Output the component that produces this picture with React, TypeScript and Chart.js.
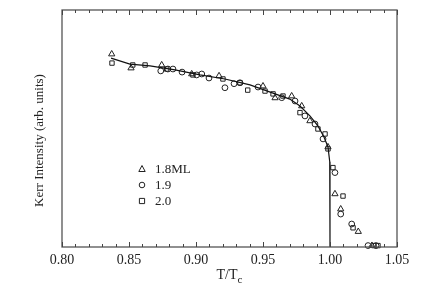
import React, { useEffect, useRef } from "react";
import { Chart, registerables } from "chart.js";

Chart.register(...registerables);

// x = T/Tc, y = Kerr intensity (arb. units)
const tri18X = [0.8371, 0.8515, 0.8744, 0.8968, 0.9172, 0.950, 0.959, 0.9714, 0.9789, 0.985, 0.9985, 1.0037, 1.008, 1.0211, 1.0313];
const tri18Y = [0.814, 0.755, 0.768, 0.730, 0.722, 0.679, 0.629, 0.637, 0.595, 0.532, 0.422, 0.224, 0.160, 0.065, 0.006];

const circ19X = [0.8737, 0.8790, 0.8828, 0.8896, 0.9005, 0.9043, 0.9097, 0.9216, 0.9284, 0.9328, 0.9463, 0.964, 0.9739, 0.9813, 0.9888, 0.9948, 1.0037, 1.008, 1.0162, 1.0284, 1.0343];
const circ19Y = [0.743, 0.751, 0.751, 0.738, 0.726, 0.730, 0.713, 0.672, 0.689, 0.693, 0.675, 0.630, 0.616, 0.553, 0.519, 0.456, 0.314, 0.139, 0.097, 0.006, 0.006];

const sq20X = [0.8373, 0.8528, 0.862, 0.8781, 0.8977, 0.9201, 0.9328, 0.9386, 0.9515, 0.9575, 0.9649, 0.9776, 0.991, 0.9963, 0.9985, 1.0022, 1.0097, 1.0172, 1.0328, 1.0358];
const sq20Y = [0.776, 0.768, 0.768, 0.751, 0.726, 0.709, 0.693, 0.662, 0.658, 0.646, 0.637, 0.567, 0.498, 0.477, 0.414, 0.335, 0.215, 0.081, 0.006, 0.006];

const fitX = [0.8366, 0.8507, 0.8657, 0.8843, 0.903, 0.9216, 0.9403, 0.959, 0.970, 0.9776, 0.985, 0.991, 0.9955, 0.9985, 0.9998, 1.0];
const fitY = [0.797, 0.772, 0.764, 0.747, 0.726, 0.709, 0.684, 0.646, 0.624, 0.595, 0.553, 0.511, 0.464, 0.422, 0.36, 0.0];

const xTickLabels = ["0.80", "0.85", "0.90", "0.95", "1.00", "1.05"];
const legendLabels = ["1.8ML", "1.9", "2.0"];
const legendStyles = ["triangle", "circle", "rect"];

const SERIF = "'Liberation Serif', 'Times New Roman', serif";
const INK = "#222";

const toPts = (xs: number[], ys: number[]) => xs.map((x, i) => ({ x, y: ys[i] }));

const decor = {
  id: "decor",
  afterDraw(chart: any) {
    const ctx = chart.ctx as CanvasRenderingContext2D;
    const a = chart.chartArea;
    const xs = chart.scales.x;
    ctx.save();
    // frame
    ctx.strokeStyle = "#555";
    ctx.lineWidth = 1.3;
    ctx.strokeRect(a.left, a.top, a.right - a.left, a.bottom - a.top);
    // ticks
    ctx.strokeStyle = "#444";
    ctx.lineWidth = 1;
    for (let i = 0; i <= 25; i++) {
      const v = 0.8 + i * 0.01;
      const px = Math.round(xs.getPixelForValue(v)) + 0.5;
      const len = i % 5 === 0 ? 5 : 3;
      ctx.beginPath();
      ctx.moveTo(px, a.bottom);
      ctx.lineTo(px, a.bottom - len);
      ctx.moveTo(px, a.top);
      ctx.lineTo(px, a.top + len);
      ctx.stroke();
    }
    // y title
    ctx.fillStyle = INK;
    ctx.font = `13px ${SERIF}`;
    ctx.textAlign = "center";
    ctx.textBaseline = "middle";
    ctx.save();
    ctx.translate(40, (a.top + a.bottom) / 2 + 12);
    ctx.rotate(-Math.PI / 2);
    ctx.fillText("Kerr Intensity (arb. units)", 0, 0);
    ctx.restore();
    // x title T/Tc
    ctx.font = `14px ${SERIF}`;
    ctx.textAlign = "left";
    ctx.textBaseline = "alphabetic";
    const main = "T/T";
    const mw = ctx.measureText(main).width;
    ctx.font = `11px ${SERIF}`;
    const sw = ctx.measureText("c").width;
    const cx = (a.left + a.right) / 2;
    const x0 = cx - (mw + sw) / 2;
    ctx.font = `14px ${SERIF}`;
    ctx.fillText(main, x0, 279);
    ctx.font = `11px ${SERIF}`;
    ctx.fillText("c", x0 + mw, 283);
    // legend
    const lx = 142;
    const ly = [169, 185, 201];
    ctx.strokeStyle = "#222";
    ctx.lineWidth = 1;
    for (let i = 0; i < 3; i++) {
      const y = ly[i];
      ctx.beginPath();
      if (legendStyles[i] === "triangle") {
        ctx.moveTo(lx, y - 3.5);
        ctx.lineTo(lx + 3.2, y + 2.5);
        ctx.lineTo(lx - 3.2, y + 2.5);
        ctx.closePath();
      } else if (legendStyles[i] === "circle") {
        ctx.arc(lx, y, 2.8, 0, Math.PI * 2);
      } else {
        ctx.rect(lx - 2.6, y - 2.6, 5.2, 5.2);
      }
      ctx.stroke();
      ctx.font = `13px ${SERIF}`;
      ctx.textBaseline = "middle";
      ctx.textAlign = "left";
      ctx.fillText(legendLabels[i], 155, y + 1);
    }
    ctx.restore();
  },
};

export default function App() {
  const ref = useRef<HTMLCanvasElement | null>(null);
  useEffect(() => {
    if (!ref.current) return;
    const pointCommon = {
      showLine: false,
      borderColor: "#222",
      backgroundColor: "rgba(255,255,255,0)",
      borderWidth: 1,
      clip: false as any,
    };
    const chart = new Chart(ref.current, {
      type: "scatter",
      data: {
        datasets: [
          {
            label: "fit",
            data: toPts(fitX, fitY),
            showLine: true,
            pointRadius: 0,
            borderColor: "#111",
            borderWidth: 1.2,
            tension: 0,
            clip: false as any,
          },
          { label: legendLabels[0], data: toPts(tri18X, tri18Y), pointStyle: "triangle", pointRadius: 3.6, ...pointCommon },
          { label: legendLabels[1], data: toPts(circ19X, circ19Y), pointStyle: "circle", pointRadius: 2.9, ...pointCommon },
          { label: legendLabels[2], data: toPts(sq20X, sq20Y), pointStyle: "rect", pointRadius: 3.1, ...pointCommon },
        ],
      },
      options: {
        responsive: false,
        animation: false,
        events: [],
        layout: { padding: { left: 62, right: 45, top: 10, bottom: 0 } },
        plugins: { legend: { display: false }, tooltip: { enabled: false } },
        scales: {
          x: {
            type: "linear",
            min: 0.8,
            max: 1.05,
            grid: { display: false, drawTicks: false },
            border: { display: false },
            afterFit: (s: any) => { s.height = 42; },
            afterBuildTicks: (s: any) => {
              s.ticks = xTickLabels.map((t) => ({ value: parseFloat(t) }));
            },
            ticks: {
              autoSkip: false,
              maxRotation: 0,
              padding: 5,
              color: INK,
              font: { family: SERIF, size: 14 },
              callback: (v: any) => Number(v).toFixed(2),
            },
          },
          y: { type: "linear", min: 0, max: 1, display: false },
        },
      },
      plugins: [decor],
    });
    return () => chart.destroy();
  }, []);
  return (
    <div style={{ position: "absolute", left: 0, top: 0, width: 442, height: 289, background: "#fff" }}>
      <canvas ref={ref} width={442} height={289} style={{ display: "block" }} />
    </div>
  );
}
